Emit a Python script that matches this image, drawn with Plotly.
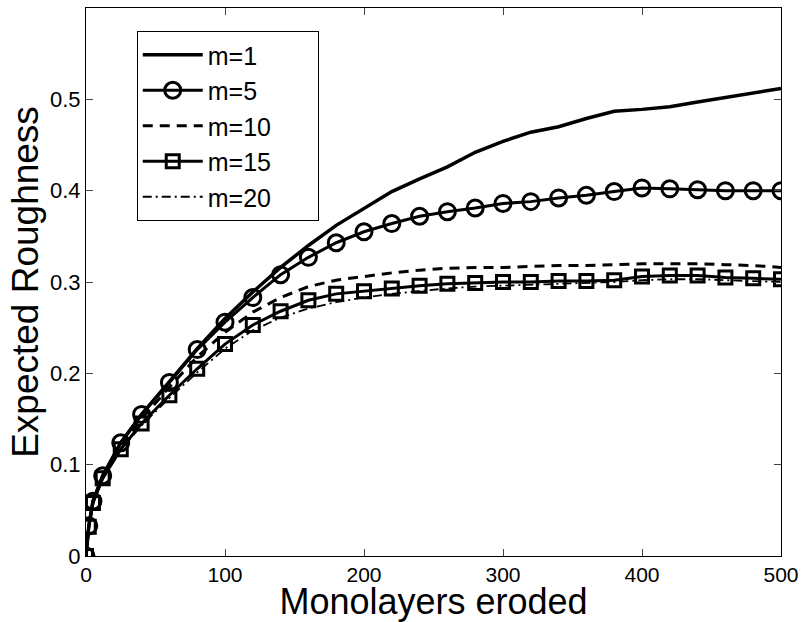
import plotly.graph_objects as go

x_vals = [0, 2, 5, 12, 25, 40, 60, 80, 100, 120, 140, 160, 180, 200, 220, 240,
          260, 280, 300, 320, 340, 360, 380, 400, 420, 440, 460, 480, 500]

m1 = [0, 0.033, 0.060, 0.088, 0.124, 0.155, 0.191, 0.227, 0.260, 0.289, 0.316, 0.340,
      0.362, 0.381, 0.399, 0.413, 0.426, 0.442, 0.454, 0.464, 0.470, 0.479, 0.487,
      0.489, 0.492, 0.497, 0.502, 0.507, 0.512]
m5 = [0, 0.033, 0.060, 0.088, 0.124, 0.155, 0.190, 0.226, 0.256, 0.283, 0.308, 0.327,
      0.343, 0.355, 0.364, 0.372, 0.377, 0.381, 0.386, 0.388, 0.392, 0.395, 0.399,
      0.403, 0.402, 0.401, 0.400, 0.400, 0.400]
m10 = [0, 0.032, 0.059, 0.087, 0.121, 0.150, 0.185, 0.218, 0.245, 0.267, 0.283, 0.295,
       0.302, 0.306, 0.310, 0.313, 0.315, 0.316, 0.316, 0.317, 0.318, 0.318, 0.319,
       0.320, 0.320, 0.320, 0.319, 0.318, 0.316]
m15 = [0, 0.032, 0.058, 0.085, 0.117, 0.145, 0.176, 0.205, 0.232, 0.253, 0.268, 0.280,
       0.287, 0.290, 0.293, 0.296, 0.298, 0.299, 0.300, 0.300, 0.301, 0.301, 0.302,
       0.306, 0.307, 0.307, 0.305, 0.304, 0.303]
m20 = [0, 0.032, 0.058, 0.084, 0.116, 0.143, 0.173, 0.201, 0.227, 0.247, 0.261, 0.271,
       0.278, 0.283, 0.287, 0.290, 0.293, 0.295, 0.296, 0.297, 0.298, 0.299, 0.300,
       0.302, 0.303, 0.303, 0.302, 0.301, 0.300]

series_names = ["m=1", "m=5", "m=10", "m=15", "m=20"]

x_ticks = [0, 100, 200, 300, 400, 500]
y_ticks = [0, 0.1, 0.2, 0.3, 0.4, 0.5]
y_tick_text = ["0", "0.1", "0.2", "0.3", "0.4", "0.5"]

FONT = "Liberation Sans, Arial, sans-serif"
PAD = "\u00a0" * 6

fig = go.Figure()
fig.add_trace(go.Scatter(x=x_vals, y=m1, name=series_names[0] + PAD, mode="lines",
                         line=dict(color="black", width=3.5)))
fig.add_trace(go.Scatter(x=x_vals, y=m5, name=series_names[1] + PAD, mode="lines+markers",
                         line=dict(color="black", width=3),
                         marker=dict(symbol="circle-open", size=16, color="black",
                                     line=dict(width=3, color="black"))))
fig.add_trace(go.Scatter(x=x_vals, y=m10, name=series_names[2] + PAD, mode="lines",
                         line=dict(color="black", width=3, dash="10px,7px")))
fig.add_trace(go.Scatter(x=x_vals, y=m15, name=series_names[3] + PAD, mode="lines+markers",
                         line=dict(color="black", width=3),
                         marker=dict(symbol="square-open", size=13, color="black",
                                     line=dict(width=3, color="black"))))
fig.add_trace(go.Scatter(x=x_vals, y=m20, name=series_names[4] + PAD, mode="lines",
                         line=dict(color="black", width=1.8, dash="9px,4px,2px,4px")))

fig.update_layout(
    width=806, height=622,
    margin=dict(l=86, r=23, t=7, b=66),
    paper_bgcolor="white", plot_bgcolor="white",
    showlegend=True,
    legend=dict(x=0.073, y=0.958, xanchor="left", yanchor="top",
                bgcolor="white", bordercolor="black", borderwidth=1,
                font=dict(family=FONT, size=25, color="black"),
                itemwidth=60, tracegroupgap=0),
    xaxis=dict(range=[0, 500], tickvals=x_ticks, ticks="inside", ticklen=7,
               showline=True, linecolor="black", linewidth=1, mirror="ticks",
               showgrid=False, zeroline=False,
               tickfont=dict(family=FONT, size=21, color="black"),
               title=dict(text="Monolayers eroded", standoff=3,
                          font=dict(family=FONT, size=36, color="black"))),
    yaxis=dict(range=[0, 0.6], tickvals=y_ticks, ticktext=y_tick_text,
               ticks="inside", ticklen=7,
               showline=True, linecolor="black", linewidth=1, mirror="ticks",
               showgrid=False, zeroline=False,
               tickfont=dict(family=FONT, size=22, color="black"),
               title=dict(text="Expected Roughness", standoff=0,
                          font=dict(family=FONT, size=37, color="black"))),
)

fig.write_html("out.html")
